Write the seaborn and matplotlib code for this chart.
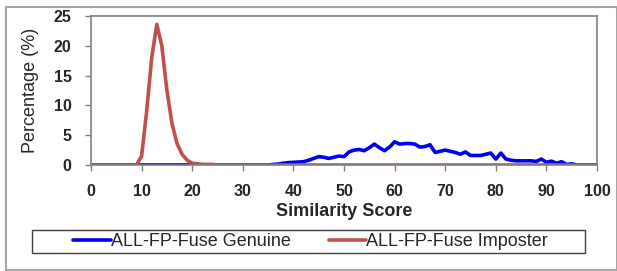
import matplotlib
matplotlib.use("Agg")
import matplotlib.pyplot as plt
import numpy as np
import pandas as pd
import seaborn as sns
from matplotlib.patches import Rectangle

# similarity scores 0..100
scores = list(range(0, 101))

# imposter distribution (%)
imposter = ([0.0] * 10 +
            [1.5, 9.0, 18.0, 23.6, 20.0, 12.5, 7.0, 3.6, 1.8, 0.8,
             0.3, 0.2, 0.1, 0.1, 0.1] +
            [0.0] * 76)

# genuine distribution (%)
genuine = ([0.0] * 36 +
           [0.1, 0.15, 0.3, 0.4, 0.45, 0.5, 0.55, 0.8, 1.1, 1.4,
            1.3, 1.1, 1.3, 1.5, 1.4, 2.2, 2.5, 2.6, 2.4, 2.9,
            3.5, 2.9, 2.4, 3.0, 3.9, 3.5, 3.6, 3.6, 3.5, 3.0,
            3.1, 3.4, 2.1, 2.3, 2.5, 2.3, 2.1, 1.8, 2.2, 1.6,
            1.6, 1.6, 1.8, 2.0, 1.0, 2.0, 1.0, 0.8, 0.7, 0.7,
            0.7, 0.7, 0.6, 1.0, 0.45, 0.65, 0.3, 0.55, 0.1, 0.2] +
           [0.0] * 5)

labels = ["ALL-FP-Fuse Genuine", "ALL-FP-Fuse Imposter"]
colors = ["#0000EE", "#C0504D"]

df = pd.DataFrame({"score": scores, labels[0]: genuine, labels[1]: imposter})
long_df = df.melt(id_vars="score", var_name="series", value_name="pct")

sns.set_theme(style="white")
plt.rcParams["font.family"] = ["Liberation Sans", "DejaVu Sans"]

fig = plt.figure(figsize=(6.17, 2.71), dpi=100)
ax = fig.add_axes([91 / 617, 1 - 165 / 271, 506 / 617, 149 / 271])

sns.lineplot(data=long_df, x="score", y="pct", hue="series",
             palette=dict(zip(labels, colors)), linewidth=2.6, ax=ax, legend=False)

ax.set_xlim(0, 100)
ax.set_ylim(0, 25)
ax.set_xticks(range(0, 101, 10))
ax.set_yticks(range(0, 26, 5))
ax.tick_params(axis="both", which="both", direction="out", length=4, width=1,
               color="#808080", pad=10, labelsize=11.5)
ax.tick_params(axis="both", bottom=True, left=True)
for lab in ax.get_xticklabels() + ax.get_yticklabels():
    lab.set_fontweight("bold")
for side in ["left", "bottom", "top", "right"]:
    ax.spines[side].set_color("#808080")
    ax.spines[side].set_linewidth(1.2)

ax.set_xlabel("Similarity Score", fontsize=13, fontweight="bold")
ax.xaxis.set_label_coords(0.5, -(203 - 165) / 149)
ax.set_ylabel("Percentage (%)", fontsize=13)
ax.yaxis.set_label_coords(-(91 - 39) / 506, 0.5)

# legend frame box
fig.patches.append(Rectangle((32 / 617, 1 - 253 / 271), 553 / 617, 23 / 271,
                             transform=fig.transFigure, fill=False,
                             edgecolor="#404040", linewidth=1.0))

handles = [plt.Line2D([], [], color=c, linewidth=2.6) for c in colors]
leg = fig.legend(handles, labels, ncol=2, loc="center",
                 bbox_to_anchor=(310.5 / 617, 1 - 241.5 / 271),
                 fontsize=13, frameon=False, handlelength=2.1,
                 handletextpad=0.0, columnspacing=2.1, borderaxespad=0)

# outer chart border
fig.patches.append(Rectangle((6 / 617, 1 / 271), 0.99, 1 - 8 / 271,
                             transform=fig.transFigure, fill=False,
                             edgecolor="#A6A6A6", linewidth=1.5))

fig.savefig("out.png", dpi=100)
